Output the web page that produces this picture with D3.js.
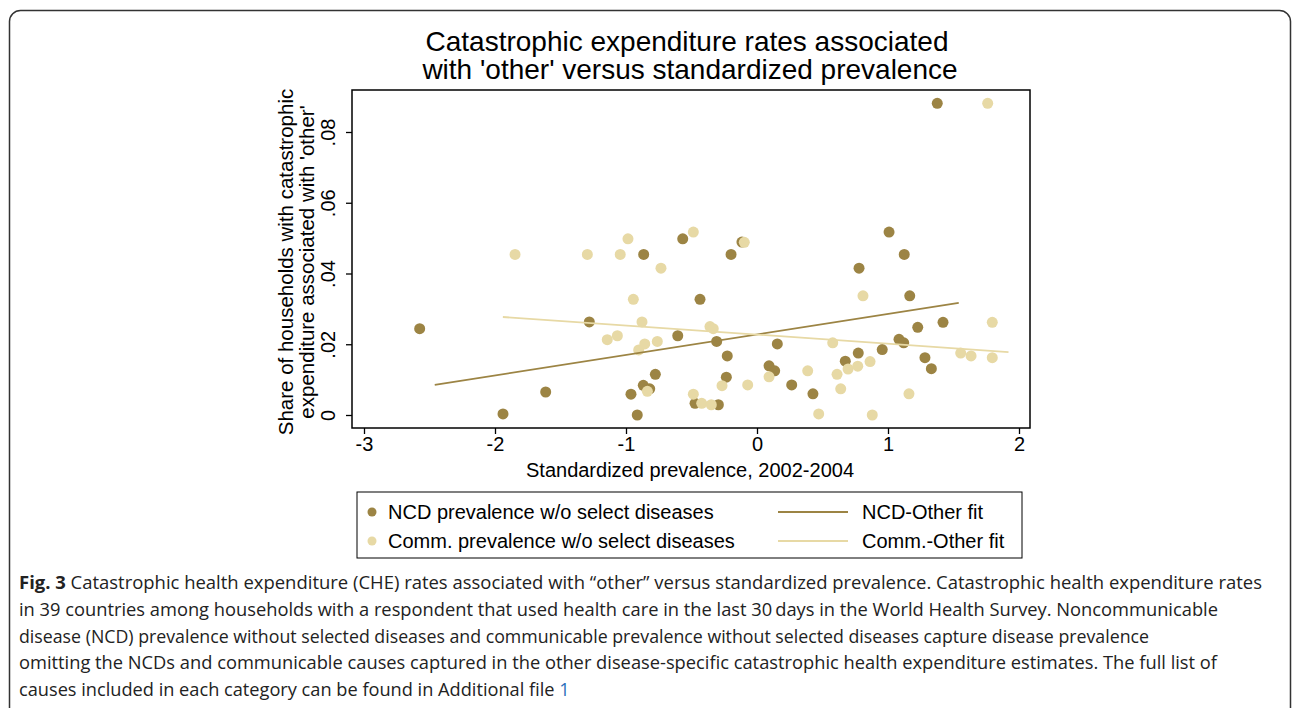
<!DOCTYPE html>
<html>
<head>
<meta charset="utf-8">
<script src="https://cdn.jsdelivr.net/npm/d3@7"></script>
<style>
  body { margin: 0; background: #fff; }
  text { font-family: "Liberation Sans", Arial, sans-serif; }
  .caption { font-family: "Open Sans", "Noto Sans", sans-serif; font-size: 18.2px; fill: #222; }
</style>
</head>
<body>
<div class="canvas"></div>
<script>
// NCD prevalence w/o select diseases
const ncdX = [-2.575, -1.939, -1.613, -1.280, -0.962, -0.914, -0.865, -0.868, -0.819, -0.776,
  -0.605, -0.567, -0.473, -0.435, -0.295, -0.308, -0.234, -0.227, -0.198, -0.115,
  0.092, 0.135, 0.155, 0.265, 0.427, 0.674, 0.773, 0.779, 0.956, 1.008,
  1.084, 1.120, 1.124, 1.166, 1.227, 1.282, 1.331, 1.376, 1.420];
const ncdY = [0.0244, 0.0003, 0.0065, 0.0263, 0.0059, 0.0000, 0.0454, 0.0084, 0.0074, 0.0115,
  0.0224, 0.0498, 0.0033, 0.0327, 0.0029, 0.0208, 0.0107, 0.0167, 0.0454, 0.0489,
  0.0139, 0.0125, 0.0201, 0.0085, 0.0060, 0.0152, 0.0175, 0.0415, 0.0185, 0.0517,
  0.0214, 0.0204, 0.0454, 0.0337, 0.0248, 0.0162, 0.0131, 0.0881, 0.0262];

// Comm. prevalence w/o select diseases
const commX = [-1.847, -1.295, -1.143, -1.066, -1.044, -0.985, -0.944, -0.903, -0.878, -0.857,
  -0.837, -0.761, -0.733, -0.486, -0.486, -0.422, -0.359, -0.334, -0.349, -0.267,
  -0.097, -0.071, 0.092, 0.387, 0.471, 0.578, 0.611, 0.639, 0.695, 0.769,
  0.809, 0.863, 0.880, 1.160, 1.555, 1.634, 1.761, 1.796, 1.796];
const commY = [0.0454, 0.0454, 0.0213, 0.0224, 0.0454, 0.0498, 0.0327, 0.0184, 0.0263, 0.0201,
  0.0067, 0.0208, 0.0415, 0.0517, 0.0059, 0.0033, 0.0250, 0.0244, 0.0029, 0.0083,
  0.0488, 0.0085, 0.0108, 0.0125, 0.0003, 0.0204, 0.0115, 0.0074, 0.0130, 0.0138,
  0.0337, 0.0151, 0.0000, 0.0060, 0.0175, 0.0167, 0.0881, 0.0262, 0.0162];

// linear fit end points
const ncdFitX = [-2.46, 1.54];
const ncdFitY = [0.0085, 0.0317];
const commFitX = [-1.94, 1.92];
const commFitY = [0.0277, 0.0178];

const xTicks = [-3, -2, -1, 0, 1, 2];
const yTicks = [0, 0.02, 0.04, 0.06, 0.08];
const yTickLabels = ['0', '.02', '.04', '.06', '.08'];

const legendItems = ['NCD prevalence w/o select diseases', 'Comm. prevalence w/o select diseases'];
const fitItems = ['NCD-Other fit', 'Comm.-Other fit'];

const captionLines = [
  ' Catastrophic health expenditure (CHE) rates associated with \u201cother\u201d versus standardized prevalence. Catastrophic health expenditure rates',
  'in 39 countries among households with a respondent that used health care in the last 30\u2009days in the World Health Survey. Noncommunicable',
  'disease (NCD) prevalence without selected diseases and communicable prevalence without selected diseases capture disease prevalence',
  'omitting the NCDs and communicable causes captured in the other disease-specific catastrophic health expenditure estimates. The full list of',
  'causes included in each category can be found in Additional file '
];
// widths of the full caption lines (last line left natural)
const capWidths = [1243, 1199, 1130, 1198, null];

const dark = '#9c8444';
const light = '#e7d9a5';

const dims = { width: 1292, height: 708 };
const frame = { left: 352, right: 1030, top: 90, bottom: 428 };

const svg = d3.select('.canvas')
  .append('svg')
  .attr('width', dims.width)
  .attr('height', dims.height);

// outer figure box
svg.append('rect')
  .attr('x', 9.5).attr('y', 10.5)
  .attr('width', 1281).attr('height', 720)
  .attr('rx', 11)
  .attr('fill', 'none')
  .attr('stroke', '#333')
  .attr('stroke-width', 1.5);

const x = d3.scaleLinear().domain([-3, 2]).range([364, 1019]);
const y = d3.scaleLinear().domain([0, 0.08]).range([415, 132]);

// title
svg.append('text')
  .attr('x', 687).attr('y', 51)
  .attr('text-anchor', 'middle')
  .style('font-size', '28px')
  .text('Catastrophic expenditure rates associated');
svg.append('text')
  .attr('x', 690).attr('y', 79)
  .attr('text-anchor', 'middle')
  .style('font-size', '28px')
  .text("with 'other' versus standardized prevalence");

// axes
const xAxis = svg.append('g')
  .attr('transform', `translate(0, ${frame.bottom})`)
  .call(d3.axisBottom(x).tickValues(xTicks).tickSize(6).tickSizeOuter(0).tickFormat(d3.format('d')));
xAxis.select('.domain').remove();
xAxis.selectAll('line').attr('stroke', '#000').attr('stroke-width', 1.3);
xAxis.selectAll('text').style('font-size', '20px').attr('y', 8).attr('dy', '0.75em').attr('fill', '#000')
  .text(d => d < 0 ? '-' + Math.abs(d) : d);

const yAxis = svg.append('g')
  .attr('transform', `translate(${frame.left}, 0)`)
  .call(d3.axisLeft(y).tickValues(yTicks).tickSize(6).tickSizeOuter(0).tickFormat((d, i) => yTickLabels[i]));
yAxis.select('.domain').remove();
yAxis.selectAll('line').attr('stroke', '#000').attr('stroke-width', 1.3);
yAxis.selectAll('text')
  .style('font-size', '20px')
  .attr('fill', '#000')
  .attr('text-anchor', 'middle')
  .attr('x', 0).attr('dy', 0)
  .attr('transform', 'translate(-17, 0) rotate(-90)');

// axis titles
svg.append('text')
  .attr('x', 690).attr('y', 477)
  .attr('text-anchor', 'middle')
  .style('font-size', '20px')
  .text('Standardized prevalence, 2002-2004');

const yTitle = svg.append('g').attr('transform', 'translate(0, 262) rotate(-90)');
yTitle.append('text')
  .attr('x', 0).attr('y', 293)
  .attr('text-anchor', 'middle')
  .style('font-size', '20.5px')
  .text('Share of households with catastrophic');
yTitle.append('text')
  .attr('x', 0).attr('y', 314)
  .attr('text-anchor', 'middle')
  .style('font-size', '20.5px')
  .text("expenditure associated with 'other'");

// points
const ncd = ncdX.map((d, i) => ({ x: d, y: ncdY[i] }));
const comm = commX.map((d, i) => ({ x: d, y: commY[i] }));

svg.append('g').selectAll('circle')
  .data(ncd)
  .enter().append('circle')
    .attr('cx', d => x(d.x))
    .attr('cy', d => y(d.y))
    .attr('r', 5.5)
    .attr('fill', dark);

svg.append('g').selectAll('circle')
  .data(comm)
  .enter().append('circle')
    .attr('cx', d => x(d.x))
    .attr('cy', d => y(d.y))
    .attr('r', 5.5)
    .attr('fill', light);

// fit lines
const line = d3.line().x(d => x(d[0])).y(d => y(d[1]));
svg.append('path')
  .attr('d', line(ncdFitX.map((d, i) => [d, ncdFitY[i]])))
  .attr('fill', 'none').attr('stroke', dark).attr('stroke-width', 1.8);
svg.append('path')
  .attr('d', line(commFitX.map((d, i) => [d, commFitY[i]])))
  .attr('fill', 'none').attr('stroke', light).attr('stroke-width', 1.8);

// plot frame
svg.append('rect')
  .attr('x', frame.left).attr('y', frame.top)
  .attr('width', frame.right - frame.left).attr('height', frame.bottom - frame.top)
  .attr('fill', 'none').attr('stroke', '#000').attr('stroke-width', 1.5);

// legend
const legendBox = { x: 357, y: 492, w: 665, h: 66 };
svg.append('rect')
  .attr('x', legendBox.x).attr('y', legendBox.y)
  .attr('width', legendBox.w).attr('height', legendBox.h)
  .attr('fill', 'none').attr('stroke', '#000').attr('stroke-width', 1);

const legend = svg.selectAll('.legend')
  .data(legendItems)
  .enter().append('g')
  .attr('class', 'legend')
  .attr('transform', (d, i) => `translate(0, ${512 + i * 29})`);

legend.append('circle')
  .attr('cx', 372).attr('cy', 0).attr('r', 4.5)
  .attr('fill', (d, i) => i === 0 ? dark : light);
legend.append('text')
  .attr('x', 388).attr('y', 7)
  .style('font-size', '20px')
  .text(d => d);
legend.append('line')
  .attr('x1', 778).attr('x2', 848)
  .attr('y1', 0).attr('y2', 0)
  .attr('stroke', (d, i) => i === 0 ? dark : light)
  .attr('stroke-width', 1.8);
legend.append('text')
  .attr('x', 862).attr('y', 7)
  .style('font-size', '20px')
  .text((d, i) => fitItems[i]);

// caption
captionLines.forEach((t, i) => {
  const txt = svg.append('text')
    .attr('class', 'caption')
    .attr('x', 19)
    .attr('y', 589 + i * 26.8);
  if (capWidths[i]) {
    txt.attr('textLength', capWidths[i]).attr('lengthAdjust', 'spacingAndGlyphs');
  }
  if (i === 0) txt.append('tspan').style('font-weight', 'bold').text('Fig. 3');
  txt.append('tspan').text(t);
  if (i === 4) txt.append('tspan').attr('fill', '#2a6ebb').text('1');
});
</script>
</body>
</html>
